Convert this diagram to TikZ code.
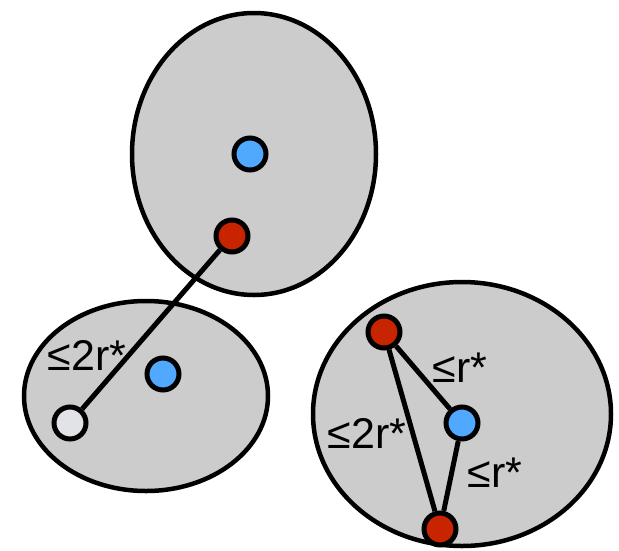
\documentclass[tikz,border=0pt]{standalone}
\usepackage{fontspec}
\setmainfont{Liberation Sans}
\definecolor{cellgrey}{HTML}{CCCCCC}
\definecolor{dotblue}{HTML}{50A8FF}
\definecolor{dotred}{HTML}{C82400}
\definecolor{dotwhite}{HTML}{E2E3E6}
\begin{document}
\begin{tikzpicture}[x=1pt,y=-1pt,
  cell/.style={draw=black,line width=4.5pt,fill=cellgrey},
  dot/.style={circle,draw=black,line width=5pt,minimum size=32pt,inner sep=0pt},
  link/.style={draw=black,line width=5pt},
  lbl/.style={font=\fontsize{43}{43}\selectfont,inner sep=0pt}]
\useasboundingbox (0,0) rectangle (619,550);
\draw[cell] (254,154) ellipse [x radius=122, y radius=141];
\draw[cell] (146,396) ellipse [x radius=122, y radius=95];
\draw[cell] (462,414) ellipse [x radius=149, y radius=132];
\node[dot,fill=dotblue] (b1) at (250,154) {};
\node[dot,fill=dotred] (r1) at (232,236) {};
\node[dot,fill=dotblue] (b2) at (163,374) {};
\node[dot,fill=dotwhite] (w1) at (70,423) {};
\node[dot,fill=dotred] (r2) at (384,332) {};
\node[dot,fill=dotblue] (b3) at (462,423) {};
\node[dot,fill=dotred] (r3) at (440,529) {};
\draw[link] (r1) -- (w1);
\draw[link] (r2) -- (b3);
\draw[link] (b3) -- (r3);
\draw[link] (r2) -- (r3);
\node[lbl] (l1) at (87,355) {≤2r*};
\node[lbl] (l2) at (460,368) {≤r*};
\node[lbl] (l3) at (367,433) {≤2r*};
\node[lbl] (l4) at (495,473) {≤r*};
\end{tikzpicture}
\end{document}
